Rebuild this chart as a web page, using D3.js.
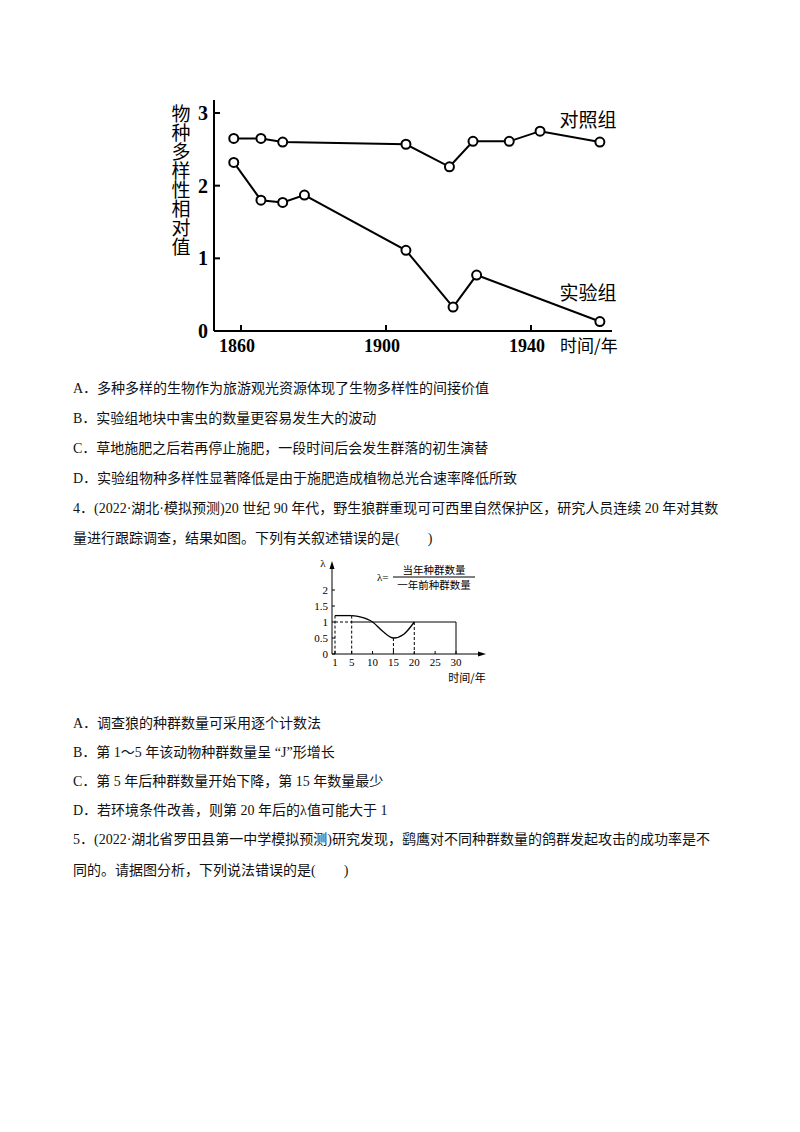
<!DOCTYPE html>
<html><head><meta charset="utf-8">
<script src="https://cdn.jsdelivr.net/npm/d3@7"></script>
<style>body{margin:0;background:#fff}svg{display:block}</style>
</head><body>
<script>
// chart 1: species diversity
const ctrlYears = [1858, 1865.5, 1871.5, 1905.5, 1917.5, 1924, 1934, 1942.5, 1959];
const ctrlVals = [2.65, 2.65, 2.6, 2.57, 2.26, 2.61, 2.61, 2.75, 2.6];
const expYears = [1858, 1865.5, 1871.5, 1877.5, 1905.5, 1918.5, 1925, 1959];
const expVals = [2.32, 1.8, 1.77, 1.87, 1.11, 0.33, 0.77, 0.13];
const xTicks1 = [1860, 1900, 1940];
const yTicks1 = [0, 1, 2, 3];
// chart 2: lambda
const lamYears = [1, 5, 7, 10, 12.5, 15, 17.5, 20];
const lamVals = [1.2, 1.2, 1.16, 1.0, 0.7, 0.5, 0.62, 1.0];
const yTicks2 = [0, 0.5, 1, 1.5, 2];
const xTicks2 = [1, 5, 10, 15, 20, 25, 30];
const dashYears = [5, 15, 20];

const upperLines = [
  "A．多种多样的生物作为旅游观光资源体现了生物多样性的间接价值",
  "B．实验组地块中害虫的数量更容易发生大的波动",
  "C．草地施肥之后若再停止施肥，一段时间后会发生群落的初生演替",
  "D．实验组物种多样性显著降低是由于施肥造成植物总光合速率降低所致",
  "4．(2022·湖北·模拟预测)20 世纪 90 年代，野生狼群重现可可西里自然保护区，研究人员连续 20 年对其数",
  "量进行跟踪调查，结果如图。下列有关叙述错误的是(　　)"];
const upperY = [388, 418, 448, 478, 508, 538];
const lowerLines = [
  "A．调查狼的种群数量可采用逐个计数法",
  "B．第 1～5 年该动物种群数量呈 “J”形增长",
  "C．第 5 年后种群数量开始下降，第 15 年数量最少",
  "D．若环境条件改善，则第 20 年后的λ值可能大于 1",
  "5．(2022·湖北省罗田县第一中学模拟预测)研究发现，鹞鹰对不同种群数量的鸽群发起攻击的成功率是不",
  "同的。请据图分析，下列说法错误的是(　　)"];
const lowerY = [723, 752, 781, 810, 839, 870];

const svg = d3.select("body").append("svg").attr("width", 800).attr("height", 1132);
const txtFont = "'Liberation Serif','Noto Sans CJK SC',serif";
const cjk = "'Noto Sans CJK SC',sans-serif";

// ---- chart 1
const x1 = d3.scaleLinear().domain([1860, 1900]).range([241, 386]);
const y1 = d3.scaleLinear().domain([0, 3]).range([331, 113]);
const g1 = svg.append("g");
g1.append("line").attr("x1", 214).attr("x2", 214).attr("y1", 100).attr("y2", 331).attr("stroke", "#000").attr("stroke-width", 2);
g1.append("line").attr("x1", 214).attr("x2", 612).attr("y1", 331).attr("y2", 331).attr("stroke", "#000").attr("stroke-width", 2);
yTicks1.forEach(v => {
  g1.append("line").attr("x1", 214).attr("x2", 220).attr("y1", y1(v)).attr("y2", y1(v)).attr("stroke", "#000").attr("stroke-width", 2);
  g1.append("text").attr("x", 208).attr("y", y1(v) + 7).attr("text-anchor", "end")
    .attr("font-family", "'Liberation Serif',serif").attr("font-weight", "bold").attr("font-size", 20).text(v);
});
xTicks1.forEach(v => {
  g1.append("line").attr("x1", x1(v)).attr("x2", x1(v)).attr("y1", 331).attr("y2", 325).attr("stroke", "#000").attr("stroke-width", 2);
  g1.append("text").attr("x", x1(v) - 4).attr("y", 352).attr("text-anchor", "middle")
    .attr("font-family", "'Liberation Serif',serif").attr("font-weight", "bold").attr("font-size", 18).text(v);
});
const line1 = d3.line().x(d => x1(d[0])).y(d => y1(d[1]));
[[ctrlYears, ctrlVals], [expYears, expVals]].forEach(([xs, vs]) => {
  const pts = xs.map((x, i) => [x, vs[i]]);
  g1.append("path").attr("d", line1(pts)).attr("fill", "none").attr("stroke", "#000").attr("stroke-width", 2);
  g1.selectAll(null).data(pts).join("circle").attr("cx", d => x1(d[0])).attr("cy", d => y1(d[1]))
    .attr("r", 4.5).attr("fill", "#fff").attr("stroke", "#000").attr("stroke-width", 2);
});
g1.append("text").attr("x", 588).attr("y", 127).attr("text-anchor", "middle").attr("font-family", cjk).attr("font-size", 19).text("对照组");
g1.append("text").attr("x", 588).attr("y", 300).attr("text-anchor", "middle").attr("font-family", cjk).attr("font-size", 19).text("实验组");
g1.append("text").attr("x", 560).attr("y", 352).attr("font-family", cjk).attr("font-size", 17).text("时间/年");
g1.append("text").attr("x", 181).attr("y", 104).attr("font-family", cjk).attr("font-size", 19)
  .style("writing-mode", "vertical-rl").text("物种多样性相对值");

// ---- chart 2
const x2 = d3.scaleLinear().domain([1, 30]).range([335, 456]);
const y2 = d3.scaleLinear().domain([0, 2]).range([654, 590]);
const g2 = svg.append("g").attr("font-family", "'Liberation Serif',serif").attr("font-size", 11);
g2.append("line").attr("x1", 332).attr("x2", 332).attr("y1", 566).attr("y2", 654).attr("stroke", "#000");
g2.append("path").attr("d", "M332,561 L329.5,569 L334.5,569 Z").attr("fill", "#000");
g2.append("line").attr("x1", 332).attr("x2", 481).attr("y1", 654).attr("y2", 654).attr("stroke", "#000");
g2.append("path").attr("d", "M486,654 L478,651.5 L478,656.5 Z").attr("fill", "#000");
g2.append("text").attr("x", 323).attr("y", 567).attr("text-anchor", "middle").text("λ");
yTicks2.forEach(v => {
  g2.append("line").attr("x1", 332).attr("x2", 335).attr("y1", y2(v)).attr("y2", y2(v)).attr("stroke", "#000");
  g2.append("text").attr("x", 328).attr("y", y2(v) + 4).attr("text-anchor", "end").text(v);
});
xTicks2.forEach(v => {
  g2.append("line").attr("x1", x2(v)).attr("x2", x2(v)).attr("y1", 654).attr("y2", 651).attr("stroke", "#000");
  g2.append("text").attr("x", x2(v)).attr("y", 666).attr("text-anchor", "middle").text(v);
});
const pts2 = lamYears.map((x, i) => [x, lamVals[i]]);
const line2 = d3.line().x(d => x2(d[0])).y(d => y2(d[1]));
const curve2 = d3.line().x(d => x2(d[0])).y(d => y2(d[1])).curve(d3.curveMonotoneX);
g2.append("path").attr("d", line2(pts2.slice(0, 2))).attr("fill", "none").attr("stroke", "#000").attr("stroke-width", 1.3);
g2.append("path").attr("d", curve2(pts2.slice(1))).attr("fill", "none").attr("stroke", "#000").attr("stroke-width", 1.3);
g2.append("path").attr("d", line2([[5, 1], [30, 1]])).attr("fill", "none").attr("stroke", "#000");
g2.append("path").attr("d", line2([[30, 1], [30, 0]])).attr("fill", "none").attr("stroke", "#000");
g2.append("path").attr("d", line2([[1, 1], [5, 1]])).attr("fill", "none").attr("stroke", "#000").attr("stroke-dasharray", "3,2");
g2.append("path").attr("d", line2([[1, 1.2], [1, 0]])).attr("fill", "none").attr("stroke", "#000").attr("stroke-dasharray", "3,2");
dashYears.forEach(t => {
  const v = lamVals[lamYears.indexOf(t)];
  g2.append("path").attr("d", line2([[t, v], [t, 0]])).attr("fill", "none").attr("stroke", "#000").attr("stroke-dasharray", "3,2");
});
g2.append("text").attr("x", 377).attr("y", 581).attr("font-size", 11).text("λ=");
g2.append("line").attr("x1", 393).attr("x2", 475).attr("y1", 577).attr("y2", 577).attr("stroke", "#000");
g2.append("text").attr("x", 434).attr("y", 574).attr("text-anchor", "middle").attr("font-family", cjk).attr("font-size", 10.5).text("当年种群数量");
g2.append("text").attr("x", 434).attr("y", 589).attr("text-anchor", "middle").attr("font-family", cjk).attr("font-size", 10.5).text("一年前种群数量");
g2.append("text").attr("x", 467).attr("y", 682).attr("text-anchor", "middle").attr("font-family", cjk).attr("font-size", 11).text("时间/年");

// ---- body text
const tg = svg.append("g").attr("font-family", txtFont).attr("font-size", 14).attr("fill", "#111");
upperLines.concat(lowerLines).forEach((t, i) => {
  tg.append("text").attr("x", 73).attr("y", upperY.concat(lowerY)[i] + 5).text(t);
});
</script>
</body></html>
